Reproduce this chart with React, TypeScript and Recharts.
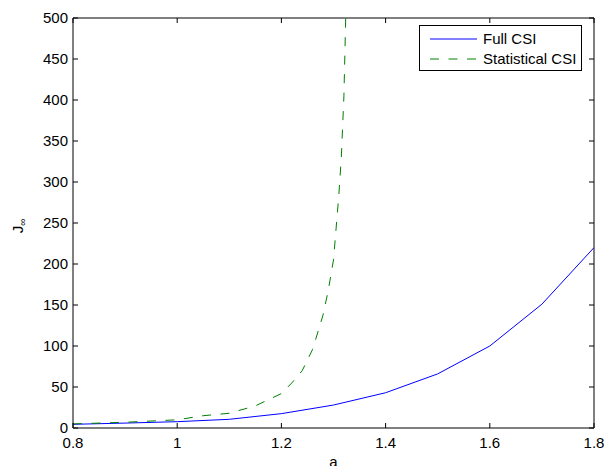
import React from 'react'
import { LineChart, Line, XAxis, YAxis, Legend } from 'recharts'

// a values / J values
const fullA = [0.8, 0.9, 1.0, 1.1, 1.2, 1.3, 1.4, 1.5, 1.6, 1.7, 1.8]
const fullJ = [4.5, 6, 7.7, 10.6, 17.5, 28, 43, 66, 100, 151, 220]

const statA = [0.8, 0.9, 1.0, 1.05, 1.1, 1.15, 1.2, 1.22, 1.24, 1.26, 1.28, 1.29, 1.3, 1.31, 1.315, 1.32, 1.3234]
const statJ = [5, 7, 10, 15, 18, 27, 42, 55, 70, 96, 138, 168, 205, 282, 330, 405, 500]

const xTicks = [0.8, 1, 1.2, 1.4, 1.6, 1.8]
const yTicks = [0, 50, 100, 150, 200, 250, 300, 350, 400, 450, 500]

const fullData = fullA.map((a, i) => ({ a, j: fullJ[i] }))
const statData = statA.map((a, i) => ({ a, j: statJ[i] }))

const FONT = '"Liberation Sans", Arial, Helvetica, sans-serif'

const SERIES = [
  { name: 'Full CSI', data: fullData, color: '#0000ff', dash: undefined },
  { name: 'Statistical CSI', data: statData, color: '#008000', dash: '9 9.5' },
]

const EmptyTick = () => <g />

const YLabel = (props: any) => {
  const { x, y, height } = props.viewBox
  const cx = x + 23
  const cy = y + height / 2 + 3
  return (
    <text
      transform={`translate(${cx},${cy}) rotate(-90)`}
      textAnchor="middle"
      fontSize={15}
      fontFamily={FONT}
      fill="#000"
    >
      J
      <tspan fontSize={10} dy={3}>
        ∞
      </tspan>
    </text>
  )
}

const XLabel = (props: any) => {
  const { x, y, width, height } = props.viewBox
  return (
    <text
      x={x + width / 2}
      y={y + height + 1}
      textAnchor="middle"
      fontSize={15}
      fontFamily={FONT}
      fill="#000"
    >
      a
    </text>
  )
}

const LegendBox = () => (
  <div style={styles.legend}>
    {SERIES.map((s, i) => (
      <div key={s.name} style={{ ...styles.legendRow, top: 4 + i * 20 }}>
        <svg width={47} height={10} style={{ marginLeft: 10 }}>
          <line
            x1={0}
            y1={5}
            x2={47}
            y2={5}
            stroke={s.color}
            strokeWidth={1}
            strokeDasharray={s.dash}
          />
        </svg>
        <span style={{ marginLeft: 6 }}>{s.name}</span>
      </div>
    ))}
  </div>
)

export default function App() {
  return (
    <div style={styles.page}>
      <LineChart
        width={607}
        height={466}
        margin={{ top: 17, right: 12, left: 0, bottom: 0 }}
        style={{ fontFamily: FONT }}
      >
        <XAxis
          dataKey="a"
          type="number"
          domain={[0.8, 1.8]}
          ticks={xTicks}
          interval={0}
          allowDataOverflow
          height={38}
          tickSize={-5}
          tickMargin={14}
          axisLine={{ stroke: '#000' }}
          tickLine={{ stroke: '#000' }}
          tick={{ fill: '#000', fontSize: 15 }}
          label={{ content: <XLabel /> }}
        />
        <XAxis
          xAxisId="top"
          orientation="top"
          dataKey="a"
          type="number"
          domain={[0.8, 1.8]}
          ticks={xTicks}
          interval={0}
          allowDataOverflow
          height={1}
          tickSize={-5}
          axisLine={{ stroke: '#000' }}
          tickLine={{ stroke: '#000' }}
          tick={<EmptyTick />}
        />
        <YAxis
          type="number"
          domain={[0, 500]}
          ticks={yTicks}
          interval={0}
          allowDataOverflow
          width={73}
          tickSize={-5}
          tickMargin={10}
          axisLine={{ stroke: '#000' }}
          tickLine={{ stroke: '#000' }}
          tick={{ fill: '#000', fontSize: 15 }}
          label={{ content: <YLabel /> }}
        />
        <YAxis
          yAxisId="right"
          orientation="right"
          type="number"
          domain={[0, 500]}
          ticks={yTicks}
          interval={0}
          allowDataOverflow
          width={1}
          tickSize={-5}
          axisLine={{ stroke: '#000' }}
          tickLine={{ stroke: '#000' }}
          tick={<EmptyTick />}
        />
        <Legend
          layout="vertical"
          align="center"
          verticalAlign="middle"
          content={<LegendBox />}
          wrapperStyle={{ position: 'absolute', left: 419, top: 25, width: 163, height: 46 }}
        />
        {SERIES.map((s) => (
          <Line
            key={s.name}
            data={s.data}
            dataKey="j"
            name={s.name}
            type="linear"
            stroke={s.color}
            strokeWidth={1}
            strokeDasharray={s.dash}
            dot={false}
            activeDot={false}
            isAnimationActive={false}
          />
        ))}
        {/* invisible copy so the top/right box axes get drawn */}
        <Line
          xAxisId="top"
          yAxisId="right"
          data={fullData}
          dataKey="j"
          stroke="none"
          dot={false}
          activeDot={false}
          legendType="none"
          isAnimationActive={false}
        />
      </LineChart>
    </div>
  )
}

const styles: Record<string, React.CSSProperties> = {
  page: {
    position: 'absolute',
    top: 0,
    left: 0,
    width: 607,
    height: 466,
    background: '#fff',
    overflow: 'hidden',
  },
  legend: {
    position: 'relative',
    boxSizing: 'border-box',
    width: 163,
    height: 46,
    border: '1px solid #000',
    background: '#fff',
    fontFamily: FONT,
    fontSize: 15,
    color: '#000',
  },
  legendRow: {
    position: 'absolute',
    left: 0,
    display: 'flex',
    alignItems: 'center',
    height: 18,
    lineHeight: '18px',
    whiteSpace: 'nowrap',
  },
}
